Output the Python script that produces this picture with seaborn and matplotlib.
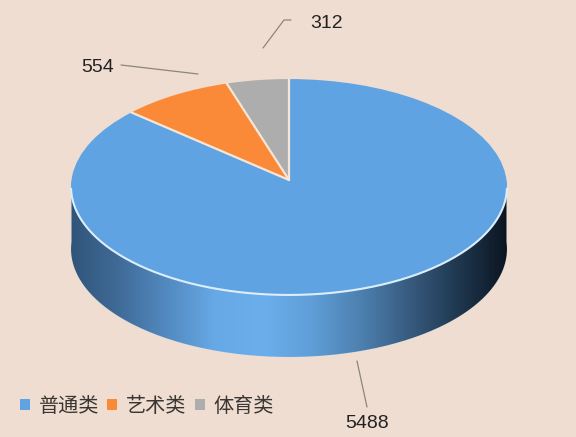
import matplotlib
matplotlib.use("Agg")
import matplotlib.pyplot as plt
import numpy as np
import seaborn as sns
from matplotlib.colors import LinearSegmentedColormap
from matplotlib.lines import Line2D
from matplotlib.patches import PathPatch
from matplotlib.path import Path
from matplotlib.transforms import Transform

categories = ["普通类", "艺术类", "体育类"]
counts = [5488, 554, 312]
count_labels = ["5488", "554", "312"]

BG = "#EFDDD1"
W, H = 576, 437
colors = sns.color_palette(["#60A3E3", "#FB8A38", "#ADADAD"])
wall_colors = ["#2F5378", "#3F6A96", "#5289BF", "#67A9E6", "#6BAEEC", "#5F9DD6",
               "#4C7FAE", "#36597C", "#1E364D", "#0A131D"]

# pie centre and radii in pixels, tilt makes the far side look smaller
CX, CY, RX, RY = 289, 180, 217.5, 107.5
TILT = 0.0648
DEPTH = 62 / RY


class Perspective(Transform):
    input_dims = 2
    output_dims = 2

    def transform_non_affine(self, values):
        values = np.asarray(values, dtype=float)
        d = 1 + TILT * values[:, 1]
        return np.column_stack([values[:, 0] / d, values[:, 1] / d])


def px(x, y):
    return x / W, 1 - y / H


sns.set_theme(style="white", rc={"figure.facecolor": BG, "axes.facecolor": BG})
plt.rcParams["font.family"] = ["Noto Sans CJK SC", "DejaVu Sans"]

fig = plt.figure(figsize=(W / 100, H / 100), dpi=100)
ax = fig.add_axes([0, 0, 1, 1])

# top face
wedges, _ = ax.pie(counts, colors=colors, startangle=90, counterclock=False,
                   wedgeprops={"edgecolor": "none", "zorder": 3})
persp = Perspective()
for w in wedges:
    w.set_transform(persp + ax.transData)
ax.set_aspect("auto")

# cream separators between the slices
for a in np.pi / 2 - 2 * np.pi * np.cumsum([0] + counts[:-1]) / sum(counts):
    sep = persp.transform(np.array([[0, 0], [np.cos(a), np.sin(a)]]))
    ax.plot(sep[:, 0], sep[:, 1], color="#F6E6D8", lw=1.6, zorder=4)

# side wall, gradient clipped to the front half of the rim
theta = np.linspace(np.pi, 2 * np.pi, 200)
rim = persp.transform(np.column_stack([np.cos(theta), np.sin(theta)]))
low = rim - [0, DEPTH]
wall = Path(np.vstack([rim, low[::-1], rim[:1]]))
cmap = LinearSegmentedColormap.from_list("wall", wall_colors)
im = ax.imshow(np.linspace(0, 1, 256)[None, :], cmap=cmap, aspect="auto", zorder=1,
               extent=(-1.02, 1.02, -2.0, 1.0))
im.set_clip_path(PathPatch(wall, transform=ax.transData))

# light rim highlights
front = np.linspace(np.pi + 0.08, 2 * np.pi - 0.08, 200)
edge = persp.transform(np.column_stack([np.cos(front), np.sin(front)]))
ax.plot(edge[:, 0], edge[:, 1], color="#DCEEFB", lw=1.5, zorder=4, solid_capstyle="round")
ax.plot(low[:, 0], low[:, 1], color="#CFE0EC", lw=0.6, alpha=0.6, zorder=0.5)

ax.set_xlim(-CX / RX, (W - CX) / RX)
ax.set_ylim((CY - H) / RY, CY / RY)
ax.axis("off")

# value labels and leader lines
label_pos = [(367, 423), (98, 67), (327, 23)]
leaders = [[(357, 361), (367, 407)], [(121, 65), (198, 74)], [(263, 48), (284, 20), (291, 20)]]
for text, pos, line in zip(count_labels, label_pos, leaders):
    x, y = px(*pos)
    fig.text(x, y, text, ha="center", va="center", fontsize=14,
             family=["Liberation Sans"], color="#222222")
    xs, ys = zip(*[px(*p) for p in line])
    fig.add_artist(Line2D(xs, ys, color="#8C8580", lw=0.9))

leg_x, leg_y = px(20, 406)
ax.legend(wedges, categories, ncol=3, frameon=False, loc="center left",
          bbox_to_anchor=(leg_x, leg_y), borderpad=0, borderaxespad=0,
          fontsize=14.5, handlelength=0.5, handleheight=0.5,
          handletextpad=0.42, columnspacing=0.42, labelcolor="#3A3633")

fig.savefig("out.png", dpi=100, facecolor=BG)
